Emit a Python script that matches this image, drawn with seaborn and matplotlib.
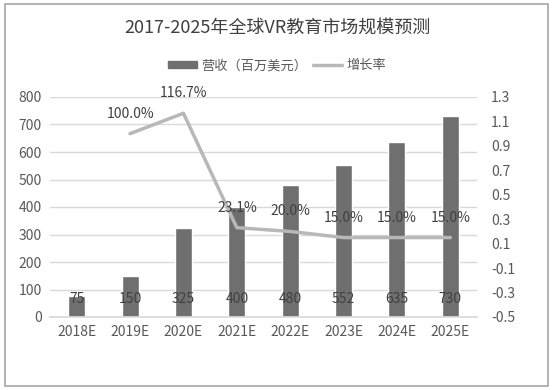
import numpy as np
import pandas as pd
import seaborn as sns
import matplotlib.pyplot as plt
from matplotlib.patches import Patch, Rectangle
from matplotlib.lines import Line2D

# chart data
years = ["2018E", "2019E", "2020E", "2021E", "2022E", "2023E", "2024E", "2025E"]
revenue = [75, 150, 325, 400, 480, 552, 635, 730]
growth = [np.nan, 1.0, 1.167, 0.231, 0.20, 0.15, 0.15, 0.15]
growth_labels = ["", "100.0%", "116.7%", "23.1%", "20.0%", "15.0%", "15.0%", "15.0%"]
left_ticks = [0, 100, 200, 300, 400, 500, 600, 700, 800]
right_ticks = [-0.5, -0.3, -0.1, 0.1, 0.3, 0.5, 0.7, 0.9, 1.1, 1.3]

df = pd.DataFrame({"year": years, "revenue": revenue, "growth": growth})
df["pos"] = np.arange(len(years))

sns.set_theme(style="white")
plt.rcParams["font.family"] = ["Noto Sans CJK SC", "DejaVu Sans"]
plt.rcParams["axes.unicode_minus"] = False

W, H = 554, 390
fig = plt.figure(figsize=(W / 100, H / 100), dpi=100)
ax = fig.add_axes([50 / W, 1 - 317 / H, 427 / W, 220 / H])

bar_color = "#6f6f6f"
line_color = "#b8b8b8"
text_color = "#595959"

sns.barplot(data=df, x="year", y="revenue", color=bar_color, width=0.32,
            saturation=1, ax=ax, zorder=2)
ax.set_ylim(0, 800)
ax.set_xlim(-0.5, 7.5)
ax.set_yticks(left_ticks)
ax.yaxis.grid(True, color="#d9d9d9", lw=1)
ax.set_axisbelow(True)
ax.set_xlabel("")
ax.set_ylabel("")
for s in ["top", "right", "left"]:
    ax.spines[s].set_visible(False)
ax.spines["bottom"].set_color("#d9d9d9")
ax.tick_params(axis="both", length=0, labelsize=10, labelcolor=text_color, pad=6)

# value labels near bar base
for i, v in enumerate(revenue):
    ax.annotate(str(v), xy=(i, 0), xytext=(0, 11), textcoords="offset pixels",
                ha="center", va="bottom", fontsize=10, color="#404040")

ax2 = ax.twinx()
sns.lineplot(data=df.dropna(), x="pos", y="growth", color=line_color, lw=2.5,
             ax=ax2, zorder=3)
ax2.set_ylim(-0.5, 1.3)
ax2.set_yticks(right_ticks)
ax2.set_yticklabels([f"{t:.1f}" for t in right_ticks])
ax2.set_xlim(-0.5, 7.5)
ax2.set_xlabel("")
ax2.set_ylabel("")
for s in ax2.spines.values():
    s.set_visible(False)
ax2.tick_params(axis="y", length=0, labelsize=10, labelcolor=text_color, pad=10)

for i, (g, lab) in enumerate(zip(growth, growth_labels)):
    if lab:
        ax2.annotate(lab, xy=(i, g), xytext=(0, 13), textcoords="offset pixels",
                     ha="center", va="bottom", fontsize=10, color="#404040")

fig.text(0.5, 1 - 28 / H, "2017-2025年全球VR教育市场规模预测", ha="center",
         va="center", fontsize=13, color="#404040")

handles = [Patch(color=bar_color), Line2D([0], [0], color=line_color, lw=2.5)]
fig.legend(handles, ["营收（百万美元）", "增长率"], loc="center",
           bbox_to_anchor=(0.5, 1 - 66 / H), ncol=2, frameon=False,
           fontsize=9.5, handlelength=2.2, handleheight=0.45, columnspacing=0.5,
           handletextpad=0.3, labelcolor=text_color)

fig.patches.append(Rectangle((5 / W, 4 / H), 543 / W, 382 / H, fill=False,
                             edgecolor="#a6a6a6", lw=1.2,
                             transform=fig.transFigure, figure=fig))

fig.savefig("out.png", dpi=100)
